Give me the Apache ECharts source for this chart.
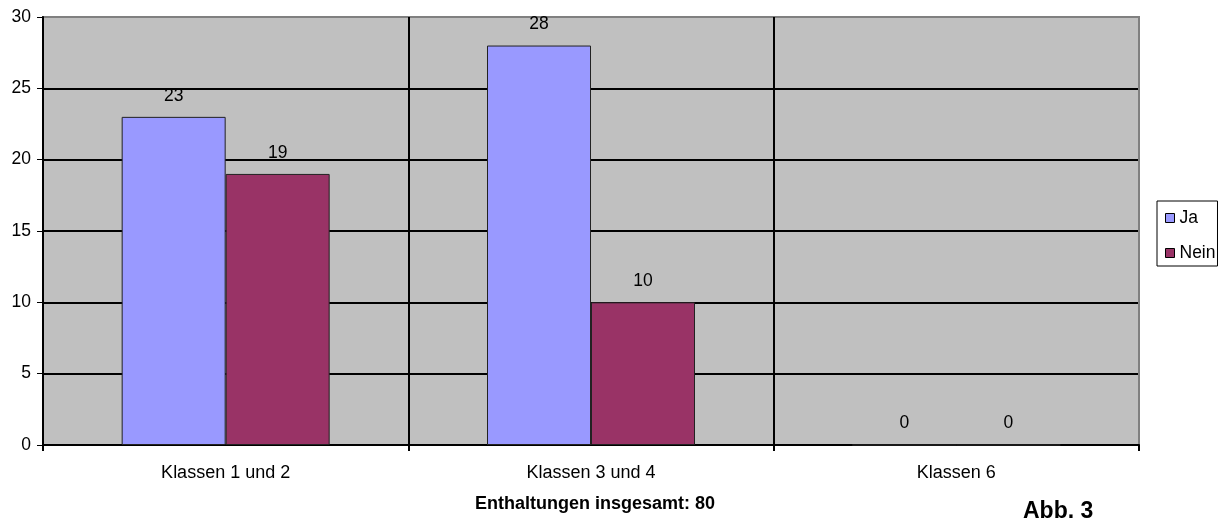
<!DOCTYPE html>
<html>
<head>
<meta charset="utf-8">
<script src="https://cdn.jsdelivr.net/npm/echarts@6/dist/echarts.min.js"></script>
<style>
html,body{margin:0;padding:0;background:#fff;}
#c{width:1222px;height:518px;}
</style>
</head>
<body>
<div id="c"></div>
<script>
const categories = ['Klassen 1 und 2', 'Klassen 3 und 4', 'Klassen 6'];
const jaValues = [23, 28, 0];
const neinValues = [19, 10, 0];
const yTicks = [0, 5, 10, 15, 20, 25, 30];

const chart = echarts.init(document.getElementById('c'), null, {renderer: 'canvas'});
const font = 'Liberation Sans, Arial, sans-serif';
const labelCfg = {show: true, position: 'top', distance: 12, color: '#000', fontFamily: font, fontSize: 17.5};
chart.setOption({
  animation: false,
  backgroundColor: '#fff',
  textStyle: {fontFamily: font},
  grid: {left: 43, right: 83, top: 17, bottom: 73, show: true, backgroundColor: '#C0C0C0', borderColor: '#808080', borderWidth: 2},
  legend: {
    orient: 'vertical', left: 1157, top: 201, padding: [8, 2, 4, 8],
    borderColor: '#000', borderWidth: 1, itemWidth: 9, itemHeight: 9, itemGap: 17, icon: 'rect',
    textStyle: {fontFamily: font, fontSize: 17.5, color: '#000'},
    data: [{name: 'Ja', itemStyle: {borderColor: '#000', borderWidth: 1}}, {name: 'Nein', itemStyle: {borderColor: '#000', borderWidth: 1}}]
  },
  xAxis: {
    type: 'category', data: categories,
    axisLine: {lineStyle: {color: '#000', width: 2}},
    axisTick: {show: true, length: 6, lineStyle: {color: '#000', width: 2}},
    axisLabel: {color: '#000', fontSize: 18, fontFamily: font, margin: 19},
    splitLine: {show: true, lineStyle: {color: ['#000', '#000', '#000', '#808080'], width: 2}}
  },
  yAxis: {
    type: 'value', min: yTicks[0], max: yTicks[yTicks.length - 1], interval: 5,
    axisLine: {show: true, lineStyle: {color: '#000', width: 2}},
    axisTick: {show: true, length: 6, lineStyle: {color: '#000', width: 1}},
    axisLabel: {color: '#000', fontSize: 17.5, fontFamily: font, margin: 12},
    splitLine: {show: true, lineStyle: {color: ['#000', '#000', '#000', '#000', '#000', '#000', '#808080'], width: 2}}
  },
  series: [
    {name: 'Ja', type: 'bar', data: jaValues, barWidth: 104, barGap: '0%',
     itemStyle: {color: '#9999FF', borderColor: '#222', borderWidth: 1}, label: labelCfg},
    {name: 'Nein', type: 'bar', data: neinValues, barWidth: 104, barGap: '0%',
     itemStyle: {color: '#993366', borderColor: '#222', borderWidth: 1}, label: labelCfg}
  ],
  graphic: [
    {type: 'text', left: 475, top: 495, style: {text: 'Enthaltungen insgesamt: 80', font: 'bold 18px Liberation Sans, Arial, sans-serif', fill: '#000'}},
    {type: 'text', left: 1023, top: 500, style: {text: 'Abb. 3', font: 'bold 23px Liberation Sans, Arial, sans-serif', fill: '#000'}}
  ]
});
</script>
</body>
</html>
